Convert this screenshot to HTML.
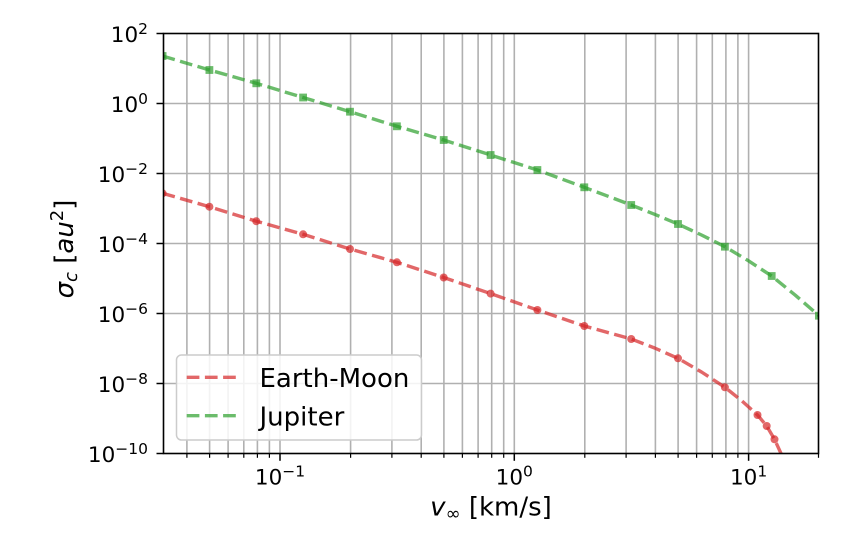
<!DOCTYPE html>
<html>
<head>
<meta charset="utf-8">
<style>
  html, body { margin: 0; padding: 0; background: #ffffff; }
  svg { display: block; }
  text { font-family: "DejaVu Sans", "Liberation Sans", sans-serif; fill: #000; }
</style>
</head>
<body>
<svg width="848" height="537" viewBox="0 0 848 537" xmlns="http://www.w3.org/2000/svg">
  <defs>
    <clipPath id="ax">
      <rect x="163.5" y="33.5" width="655" height="420"/>
    </clipPath>
  </defs>
  <rect x="0" y="0" width="848" height="537" fill="#ffffff"/>

  <!-- grid -->
  <g stroke="#b0b0b0" stroke-width="1.6" fill="none">
    <line x1="163.5" y1="103.5" x2="818.5" y2="103.5"/>
    <line x1="163.5" y1="173.5" x2="818.5" y2="173.5"/>
    <line x1="163.5" y1="243.5" x2="818.5" y2="243.5"/>
    <line x1="163.5" y1="313.5" x2="818.5" y2="313.5"/>
    <line x1="163.5" y1="383.5" x2="818.5" y2="383.5"/>
    <line x1="186.9" y1="33.5" x2="186.9" y2="453.5"/>
    <line x1="209.6" y1="33.5" x2="209.6" y2="453.5"/>
    <line x1="228.1" y1="33.5" x2="228.1" y2="453.5"/>
    <line x1="243.8" y1="33.5" x2="243.8" y2="453.5"/>
    <line x1="257.4" y1="33.5" x2="257.4" y2="453.5"/>
    <line x1="269.4" y1="33.5" x2="269.4" y2="453.5"/>
    <line x1="280.0" y1="33.5" x2="280.0" y2="453.5"/>
    <line x1="350.6" y1="33.5" x2="350.6" y2="453.5"/>
    <line x1="391.9" y1="33.5" x2="391.9" y2="453.5"/>
    <line x1="421.2" y1="33.5" x2="421.2" y2="453.5"/>
    <line x1="443.9" y1="33.5" x2="443.9" y2="453.5"/>
    <line x1="462.4" y1="33.5" x2="462.4" y2="453.5"/>
    <line x1="478.1" y1="33.5" x2="478.1" y2="453.5"/>
    <line x1="491.7" y1="33.5" x2="491.7" y2="453.5"/>
    <line x1="503.7" y1="33.5" x2="503.7" y2="453.5"/>
    <line x1="514.3" y1="33.5" x2="514.3" y2="453.5"/>
    <line x1="584.8" y1="33.5" x2="584.8" y2="453.5"/>
    <line x1="626.1" y1="33.5" x2="626.1" y2="453.5"/>
    <line x1="655.4" y1="33.5" x2="655.4" y2="453.5"/>
    <line x1="678.1" y1="33.5" x2="678.1" y2="453.5"/>
    <line x1="696.6" y1="33.5" x2="696.6" y2="453.5"/>
    <line x1="712.3" y1="33.5" x2="712.3" y2="453.5"/>
    <line x1="725.9" y1="33.5" x2="725.9" y2="453.5"/>
    <line x1="737.9" y1="33.5" x2="737.9" y2="453.5"/>
    <line x1="748.6" y1="33.5" x2="748.6" y2="453.5"/>
  </g>

  <g clip-path="url(#ax)">
    <polyline fill="none" stroke="#d62728" stroke-opacity="0.7" stroke-width="3.4" stroke-dasharray="12.7 5.5" stroke-linejoin="round"
      points="162.6,193.3 209.4,206.7 256.3,221.2 303.1,234.3 350,249 396.9,262.3 443.7,277.5 490.6,293.6 537.4,310 584.3,326 631.2,339 654.6,348 678,358.3 701.5,372 724.9,387.3 741.2,400.3 757.5,415 766.7,426 774.5,439.3 784,460"/>
    <g fill="#d62728" fill-opacity="0.7">
      <circle cx="162.6" cy="193.3" r="4"/>
      <circle cx="209.4" cy="206.7" r="4"/>
      <circle cx="256.3" cy="221.2" r="4"/>
      <circle cx="303.1" cy="234.3" r="4"/>
      <circle cx="350" cy="249" r="4"/>
      <circle cx="396.9" cy="262.3" r="4"/>
      <circle cx="443.7" cy="277.5" r="4"/>
      <circle cx="490.6" cy="293.6" r="4"/>
      <circle cx="537.4" cy="310" r="4"/>
      <circle cx="584.3" cy="326" r="4"/>
      <circle cx="631.2" cy="339" r="4"/>
      <circle cx="678" cy="358.3" r="4"/>
      <circle cx="724.9" cy="387.3" r="4"/>
      <circle cx="757.5" cy="415" r="4"/>
      <circle cx="766.7" cy="426" r="4"/>
      <circle cx="774.5" cy="439.3" r="4"/>
    </g>

    <polyline fill="none" stroke="#2ca02c" stroke-opacity="0.7" stroke-width="3.4" stroke-dasharray="12.7 5.5" stroke-linejoin="round"
      points="162.6,56 209.4,70 256.3,83.3 303.1,97.5 350,111.7 396.9,126.3 443.7,140 490.6,155 537.4,170 584.3,187.3 631.2,205 654.6,214.3 678,224 701.5,235 724.9,246.7 748.3,260.7 771.7,276 795.3,295.2 818.9,315.7"/>
    <g fill="#2ca02c" fill-opacity="0.7">
      <rect x="158.7" y="52.1" width="7.8" height="7.8"/>
      <rect x="205.5" y="66.1" width="7.8" height="7.8"/>
      <rect x="252.4" y="79.4" width="7.8" height="7.8"/>
      <rect x="299.2" y="93.6" width="7.8" height="7.8"/>
      <rect x="346.1" y="107.8" width="7.8" height="7.8"/>
      <rect x="393" y="122.4" width="7.8" height="7.8"/>
      <rect x="439.8" y="136.1" width="7.8" height="7.8"/>
      <rect x="486.7" y="151.1" width="7.8" height="7.8"/>
      <rect x="533.5" y="166.1" width="7.8" height="7.8"/>
      <rect x="580.4" y="183.4" width="7.8" height="7.8"/>
      <rect x="627.3" y="201.1" width="7.8" height="7.8"/>
      <rect x="674.1" y="220.1" width="7.8" height="7.8"/>
      <rect x="721" y="242.8" width="7.8" height="7.8"/>
      <rect x="767.8" y="272.1" width="7.8" height="7.8"/>
      <rect x="815" y="311.8" width="7.8" height="7.8"/>
    </g>
  </g>

  <rect x="163.5" y="33.5" width="655" height="420" fill="none" stroke="#000" stroke-width="1.6"/>

  <g stroke="#000" stroke-width="1.5">
    <line x1="156.5" y1="33.5" x2="163.5" y2="33.5"/>
    <line x1="156.5" y1="103.5" x2="163.5" y2="103.5"/>
    <line x1="156.5" y1="173.5" x2="163.5" y2="173.5"/>
    <line x1="156.5" y1="243.5" x2="163.5" y2="243.5"/>
    <line x1="156.5" y1="313.5" x2="163.5" y2="313.5"/>
    <line x1="156.5" y1="383.5" x2="163.5" y2="383.5"/>
    <line x1="156.5" y1="453.5" x2="163.5" y2="453.5"/>
    <line x1="280.0" y1="453.5" x2="280.0" y2="460.8"/>
    <line x1="514.3" y1="453.5" x2="514.3" y2="460.8"/>
    <line x1="748.6" y1="453.5" x2="748.6" y2="460.8"/>
  </g>
  <g stroke="#000" stroke-width="1.2">
    <line x1="186.9" y1="453.5" x2="186.9" y2="457.8"/>
    <line x1="209.6" y1="453.5" x2="209.6" y2="457.8"/>
    <line x1="228.1" y1="453.5" x2="228.1" y2="457.8"/>
    <line x1="243.8" y1="453.5" x2="243.8" y2="457.8"/>
    <line x1="257.4" y1="453.5" x2="257.4" y2="457.8"/>
    <line x1="269.4" y1="453.5" x2="269.4" y2="457.8"/>
    <line x1="350.6" y1="453.5" x2="350.6" y2="457.8"/>
    <line x1="391.9" y1="453.5" x2="391.9" y2="457.8"/>
    <line x1="421.2" y1="453.5" x2="421.2" y2="457.8"/>
    <line x1="443.9" y1="453.5" x2="443.9" y2="457.8"/>
    <line x1="462.4" y1="453.5" x2="462.4" y2="457.8"/>
    <line x1="478.1" y1="453.5" x2="478.1" y2="457.8"/>
    <line x1="491.7" y1="453.5" x2="491.7" y2="457.8"/>
    <line x1="503.7" y1="453.5" x2="503.7" y2="457.8"/>
    <line x1="584.8" y1="453.5" x2="584.8" y2="457.8"/>
    <line x1="626.1" y1="453.5" x2="626.1" y2="457.8"/>
    <line x1="655.4" y1="453.5" x2="655.4" y2="457.8"/>
    <line x1="678.1" y1="453.5" x2="678.1" y2="457.8"/>
    <line x1="696.6" y1="453.5" x2="696.6" y2="457.8"/>
    <line x1="712.3" y1="453.5" x2="712.3" y2="457.8"/>
    <line x1="725.9" y1="453.5" x2="725.9" y2="457.8"/>
    <line x1="737.9" y1="453.5" x2="737.9" y2="457.8"/>
    <line x1="818.5" y1="453.5" x2="818.5" y2="457.8"/>
  </g>

  <g font-size="21.5" text-anchor="end">
    <text x="148" y="42.2">10<tspan font-size="15.5" dy="-8">2</tspan></text>
    <text x="148" y="112.2">10<tspan font-size="15.5" dy="-8">0</tspan></text>
    <text x="148" y="182.2">10<tspan font-size="15.5" dy="-8">−2</tspan></text>
    <text x="148" y="252.2">10<tspan font-size="15.5" dy="-8">−4</tspan></text>
    <text x="148" y="322.2">10<tspan font-size="15.5" dy="-8">−6</tspan></text>
    <text x="148" y="392.2">10<tspan font-size="15.5" dy="-8">−8</tspan></text>
    <text x="148" y="462.2">10<tspan font-size="15.5" dy="-8">−10</tspan></text>
  </g>

  <g font-size="21.5" text-anchor="middle">
    <text x="280.0" y="484.5">10<tspan font-size="15.5" dy="-8">−1</tspan></text>
    <text x="514.3" y="484.5">10<tspan font-size="15.5" dy="-8">0</tspan></text>
    <text x="748.6" y="484.5">10<tspan font-size="15.5" dy="-8">1</tspan></text>
  </g>

  <text x="491" y="515.5" font-size="26" text-anchor="middle"><tspan font-style="italic">v</tspan><tspan font-size="18" dy="4">∞</tspan><tspan dy="-4"> [km/s]</tspan></text>
  <text transform="translate(73,249) rotate(-90)" font-size="26" text-anchor="middle"><tspan font-style="italic">σ</tspan><tspan font-size="18" font-style="italic" dy="4">c</tspan><tspan dy="-4"> [</tspan><tspan font-style="italic">au</tspan><tspan font-size="18" dy="-10">2</tspan><tspan dy="10">]</tspan></text>

  <rect x="176.5" y="355" width="245" height="85" rx="5" ry="5" fill="#ffffff" fill-opacity="0.85" stroke="#cccccc" stroke-width="1.5"/>
  <line x1="186.7" y1="377.3" x2="239.3" y2="377.3" stroke="#d62728" stroke-opacity="0.7" stroke-width="3.4" stroke-dasharray="12.7 5.5"/>
  <line x1="186.7" y1="415.7" x2="239.3" y2="415.7" stroke="#2ca02c" stroke-opacity="0.7" stroke-width="3.4" stroke-dasharray="12.7 5.5"/>
  <text x="259.5" y="387" font-size="26">Earth-Moon</text>
  <text x="259.5" y="425.4" font-size="26">Jupiter</text>
</svg>
</body>
</html>
